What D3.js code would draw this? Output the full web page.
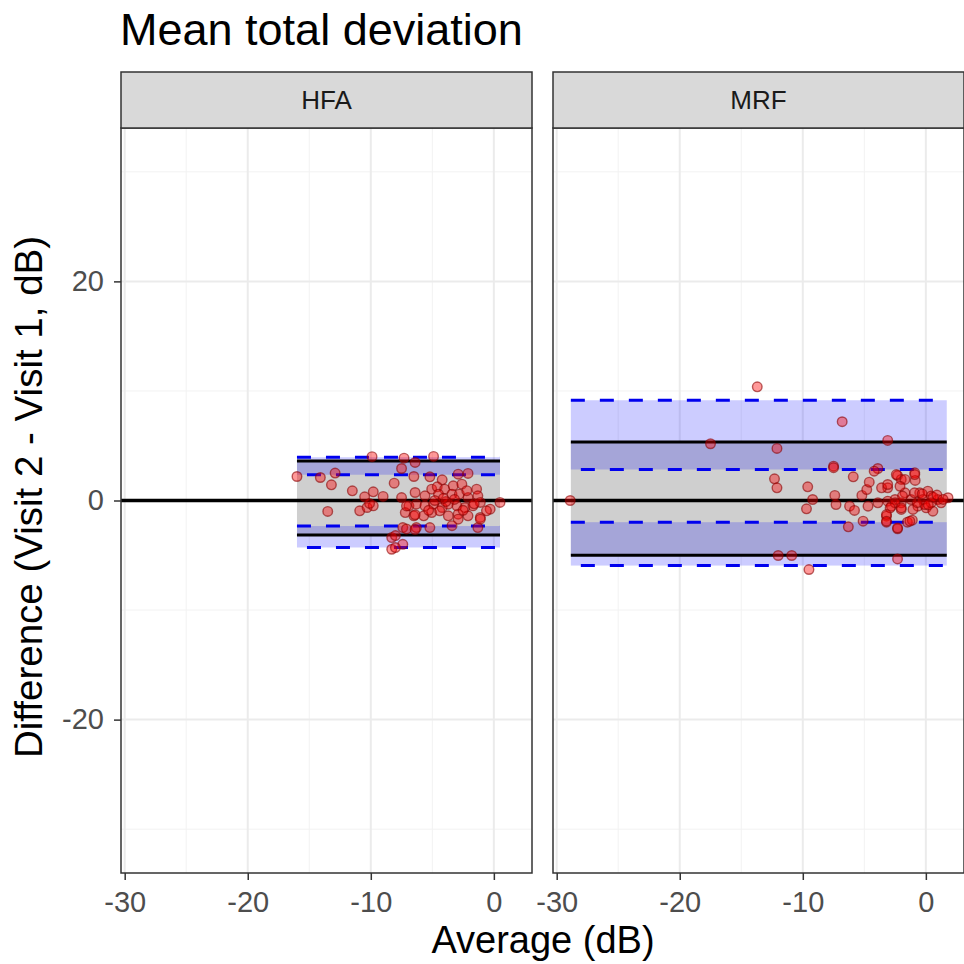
<!DOCTYPE html>
<html lang="en">
<head>
    <meta charset="UTF-8">
    <title>Mean total deviation</title>
    <script src="https://d3js.org/d3.v7.min.js"></script>
    <style>
        body {
            margin: 0;
            background-color: #ffffff;
            font-family: "Liberation Sans", Arial, sans-serif;
        }
        svg {
            display: block;
        }
    </style>
</head>
<body>

<svg width="964" height="964"></svg>

<script>
    // Facets
    const panels = ["HFA", "MRF"];

    // Axis ticks
    const xTicks = [-30, -20, -10, 0];
    const xMinor = [-25, -15, -5];
    const yTicks = [-20, 0, 20];
    const yMinor = [-30, -10, 10, 30];

    // Limits of agreement and their confidence bands (HFA, MRF)
    const bandXMin = [-16.0, -28.85];
    const bandXMax = [0.5, 1.7];
    const loaUpper = [3.6, 5.35];
    const loaLower = [-3.14, -5.0];
    const upperCiHigh = [3.95, 9.15];
    const upperCiLow = [2.35, 2.83];
    const lowerCiHigh = [-2.33, -1.98];
    const lowerCiLow = [-4.29, -5.94];

    // HFA points: average and difference (dB)
    const hfaAvg = [-16.0, -14.1, -12.9, -13.2, -9.9, -11.5, -9.8, -10.5, -9.0, -13.5,
        -10.9, -10.3, -9.8, -10.1, -8.3, -8.3, -7.3, -6.4, -4.9, -7.5,
        -6.5, -5.2, -4.2, -2.9, -2.1, -8.1, -6.4, -5.05, -4.6, -4.0,
        -3.3, -2.6, -1.4, -5.6, -4.5, -3.4, -2.8, -2.1, -1.3, -7.5,
        -6.9, -6.3, -5.6, -4.9, -4.2, -3.7, -3.0, -2.35, -1.7, -1.1,
        -0.3, 0.5, -7.2, -6.5, -5.7, -5.05, -4.4, -3.7, -2.9, -2.1,
        -1.1, -0.6, -2.9, -7.4, -6.3, -5.2, -3.4, -1.3, -8.0, -7.4,
        -8.0, -7.1, -6.4, -1.1, -7.1, -6.4, -3.2, -2.5, -4.8, -3.9,
        -2.2, -1.6, -5.3, -4.1];
    const hfaDiff = [2.19, 2.1, 2.5, 1.43, 4.0, 0.88, 0.79, 0.34, 0.37, -1.0,
        -0.94, -0.64, -0.49, -0.27, -3.38, -4.45, 3.86, 3.47, 4.02, 2.92,
        2.19, 2.16, 1.89, 2.4, 2.47, 1.58, 0.73, 1.03, 1.25, 1.03,
        1.34, 1.49, 1.03, 0.43, 0.58, 0.58, 0.58, 0.27, 0.43, 0.27,
        -0.49, -0.34, -0.49, -0.34, -0.64, -0.34, -0.49, -0.64, -0.49, -0.18,
        -0.79, -0.18, -1.1, -1.4, -1.4, -1.1, -0.94, -1.4, -1.25, -1.4,
        -1.55, -0.94, -1.7, -2.47, -2.47, -2.47, -2.3, -2.47, -3.2, -4.0,
        -4.3, -2.6, -2.65, -1.7, -0.5, -1.3, 0.1, -0.9, 0.0, -0.1,
        0.9, -0.3, -0.9, 0.2];

    // MRF points: average and difference (dB)
    const mrfAvg = [-13.7, -6.8, -17.5, -12.1, -3.1, -7.5, -7.5, -3.9, -4.2, -5.9,
        -12.3, -12.1, -9.6, -9.2, -9.7, -7.4, -7.3, -6.2, -5.8, -6.3,
        -5.1, -5.2, -4.8, -4.6, -3.1, -2.3, -2.0, -0.9, -0.87, -3.2,
        -3.2, -2.3, -1.5, -1.1, -2.3, -12.0, -10.9, -9.5, -28.9, 1.8,
        -2.5, -2.0, -3.1, -3.9, -1.7, -3.6, -2.8, -2.0, -4.7, -0.5,
        0.16, 0.43, -0.24, -0.65, 0.03, 0.57, 0.97, -1.2, -0.92, 1.24,
        0.43, -0.1, -1.05, -2.4, -1.7, -0.9, -2.1, -3.1, -1.9, -2.5,
        -2.9, -2.0, -3.2, -3.2, -2.3, -1.3, 0.6, 0.2, -0.3, 0.9,
        -0.7, 1.4];
    const mrfDiff = [10.38, 7.19, 5.18, 4.75, 5.48, 3.13, 3.0, 2.92, 2.68, 2.16,
        1.98, 1.16, 1.25, 0.09, -0.76, 0.46, -0.37, -0.52, -0.91, -2.4,
        -1.89, 0.46, 1.0, 1.67, 1.16, 2.28, 1.92, 2.53, 1.83, -1.43,
        -1.98, -2.58, -1.98, -1.8, -5.33, -5.02, -5.02, -6.3, 0.0, 0.25,
        0.09, -0.21, -0.06, -0.21, 0.7, 1.16, -0.52, -0.82, -0.52, 0.7,
        0.85, 0.4, 0.09, -0.52, -0.67, -0.97, 0.09, 0.09, 0.7, -0.21,
        -0.21, -0.37, -0.82, 2.37, 1.92, 2.37, 1.3, 1.46, 0.4, -0.21,
        -0.67, -0.67, -1.28, -1.89, -2.5, -1.89, 0.3, -0.4, 0.6, 0.5,
        -0.2, 0.1];

    const pointsAvg = [hfaAvg, mrfAvg];
    const pointsDiff = [hfaDiff, mrfDiff];

    // Layout
    const panelLeft = [121, 553];
    const panelWidth = 411;
    const panelTop = 128;
    const panelBottom = 873;
    const stripTop = 72;

    const svg = d3.select("svg");

    const yScale = d3.scaleLinear()
        .domain([-34, 34])
        .range([panelBottom, panelTop]);

    // Title
    svg.append("text")
        .attr("x", 120)
        .attr("y", 45)
        .attr("font-size", 45)
        .attr("fill", "#000")
        .text("Mean total deviation");

    panels.forEach((name, p) => {
        const x0 = panelLeft[p];
        const xScale = d3.scaleLinear()
            .domain([-30.3, 3.1])
            .range([x0, x0 + panelWidth]);

        const g = svg.append("g");

        // background
        g.append("rect")
            .attr("x", x0).attr("y", panelTop)
            .attr("width", panelWidth).attr("height", panelBottom - panelTop)
            .attr("fill", "#fff");

        // minor grid
        g.selectAll(".xminor").data(xMinor).enter().append("line")
            .attr("x1", d => xScale(d)).attr("x2", d => xScale(d))
            .attr("y1", panelTop).attr("y2", panelBottom)
            .attr("stroke", "#f2f2f2").attr("stroke-width", 1);
        g.selectAll(".yminor").data(yMinor).enter().append("line")
            .attr("x1", x0).attr("x2", x0 + panelWidth)
            .attr("y1", d => yScale(d)).attr("y2", d => yScale(d))
            .attr("stroke", "#f2f2f2").attr("stroke-width", 1);

        // major grid
        g.selectAll(".xmajor").data(xTicks).enter().append("line")
            .attr("x1", d => xScale(d)).attr("x2", d => xScale(d))
            .attr("y1", panelTop).attr("y2", panelBottom)
            .attr("stroke", "#ebebeb").attr("stroke-width", 2);
        g.selectAll(".ymajor").data(yTicks).enter().append("line")
            .attr("x1", x0).attr("x2", x0 + panelWidth)
            .attr("y1", d => yScale(d)).attr("y2", d => yScale(d))
            .attr("stroke", "#ebebeb").attr("stroke-width", 2);

        const bx = xScale(bandXMin[p]);
        const bw = xScale(bandXMax[p]) - bx;

        // grey band between limits of agreement
        g.append("rect")
            .attr("x", bx).attr("width", bw)
            .attr("y", yScale(loaUpper[p]))
            .attr("height", yScale(loaLower[p]) - yScale(loaUpper[p]))
            .attr("fill", "#cfcfcf");

        // confidence bands of the limits
        [[upperCiLow[p], upperCiHigh[p]], [lowerCiLow[p], lowerCiHigh[p]]].forEach(r => {
            g.append("rect")
                .attr("x", bx).attr("width", bw)
                .attr("y", yScale(r[1]))
                .attr("height", yScale(r[0]) - yScale(r[1]))
                .attr("fill", "blue")
                .attr("fill-opacity", 0.2);
        });

        // zero line
        g.append("line")
            .attr("x1", x0).attr("x2", x0 + panelWidth)
            .attr("y1", yScale(0)).attr("y2", yScale(0))
            .attr("stroke", "#000").attr("stroke-width", 3.5);

        // limits of agreement
        [loaUpper[p], loaLower[p]].forEach(v => {
            g.append("line")
                .attr("x1", bx).attr("x2", bx + bw)
                .attr("y1", yScale(v)).attr("y2", yScale(v))
                .attr("stroke", "#000").attr("stroke-width", 3);
        });

        // dashed confidence limits
        const dashed = [[upperCiHigh[p], 0], [upperCiLow[p], 19], [lowerCiHigh[p], 0], [lowerCiLow[p], 19]];
        dashed.forEach(d => {
            g.append("line")
                .attr("x1", bx).attr("x2", bx + bw)
                .attr("y1", yScale(d[0])).attr("y2", yScale(d[0]))
                .attr("stroke", "#0000ee").attr("stroke-width", 3)
                .attr("stroke-dasharray", "14,15")
                .attr("stroke-dashoffset", d[1]);
        });

        // points
        g.selectAll(".pt").data(d3.range(pointsAvg[p].length)).enter().append("circle")
            .attr("cx", i => xScale(pointsAvg[p][i]))
            .attr("cy", i => yScale(pointsDiff[p][i]))
            .attr("r", 4.8)
            .attr("fill", "red").attr("fill-opacity", 0.4)
            .attr("stroke", "#8b0000").attr("stroke-opacity", 0.6)
            .attr("stroke-width", 1.4);

        // panel border
        g.append("rect")
            .attr("x", x0).attr("y", panelTop)
            .attr("width", panelWidth).attr("height", panelBottom - panelTop)
            .attr("fill", "none").attr("stroke", "#333").attr("stroke-width", 1.5);

        // strip
        g.append("rect")
            .attr("x", x0).attr("y", stripTop)
            .attr("width", panelWidth).attr("height", panelTop - stripTop)
            .attr("fill", "#d9d9d9").attr("stroke", "#333").attr("stroke-width", 1.5);
        g.append("text")
            .attr("x", x0 + panelWidth / 2).attr("y", (stripTop + panelTop) / 2 + 9)
            .attr("text-anchor", "middle")
            .attr("font-size", 26).attr("fill", "#1a1a1a")
            .text(name);

        // x axis
        const xAxis = g.append("g")
            .attr("transform", `translate(0,${panelBottom})`)
            .call(d3.axisBottom(xScale).tickValues(xTicks).tickFormat(d => String(d))
                .tickSize(7).tickPadding(11));
        xAxis.select(".domain").remove();
        xAxis.selectAll("line").attr("stroke", "#333").attr("stroke-width", 1.5);
        xAxis.selectAll("text").attr("font-size", 29).attr("fill", "#4d4d4d")
            .attr("font-family", "Liberation Sans, Arial, sans-serif");
    });

    // y axis
    const yAxis = svg.append("g")
        .attr("transform", `translate(${panelLeft[0]},0)`)
        .call(d3.axisLeft(yScale).tickValues(yTicks).tickFormat(d => String(d))
            .tickSize(7).tickPadding(10));
    yAxis.select(".domain").remove();
    yAxis.selectAll("line").attr("stroke", "#333").attr("stroke-width", 1.5);
    yAxis.selectAll("text").attr("font-size", 29).attr("fill", "#4d4d4d")
        .attr("font-family", "Liberation Sans, Arial, sans-serif");

    // axis titles
    svg.append("text")
        .attr("x", 543).attr("y", 953)
        .attr("text-anchor", "middle")
        .attr("font-size", 38).attr("fill", "#000")
        .text("Average (dB)");

    svg.append("text")
        .attr("transform", "translate(42,497) rotate(-90)")
        .attr("text-anchor", "middle")
        .attr("font-size", 38.5).attr("fill", "#000")
        .text("Difference (Visit 2 - Visit 1, dB)");
</script>

</body>
</html>
